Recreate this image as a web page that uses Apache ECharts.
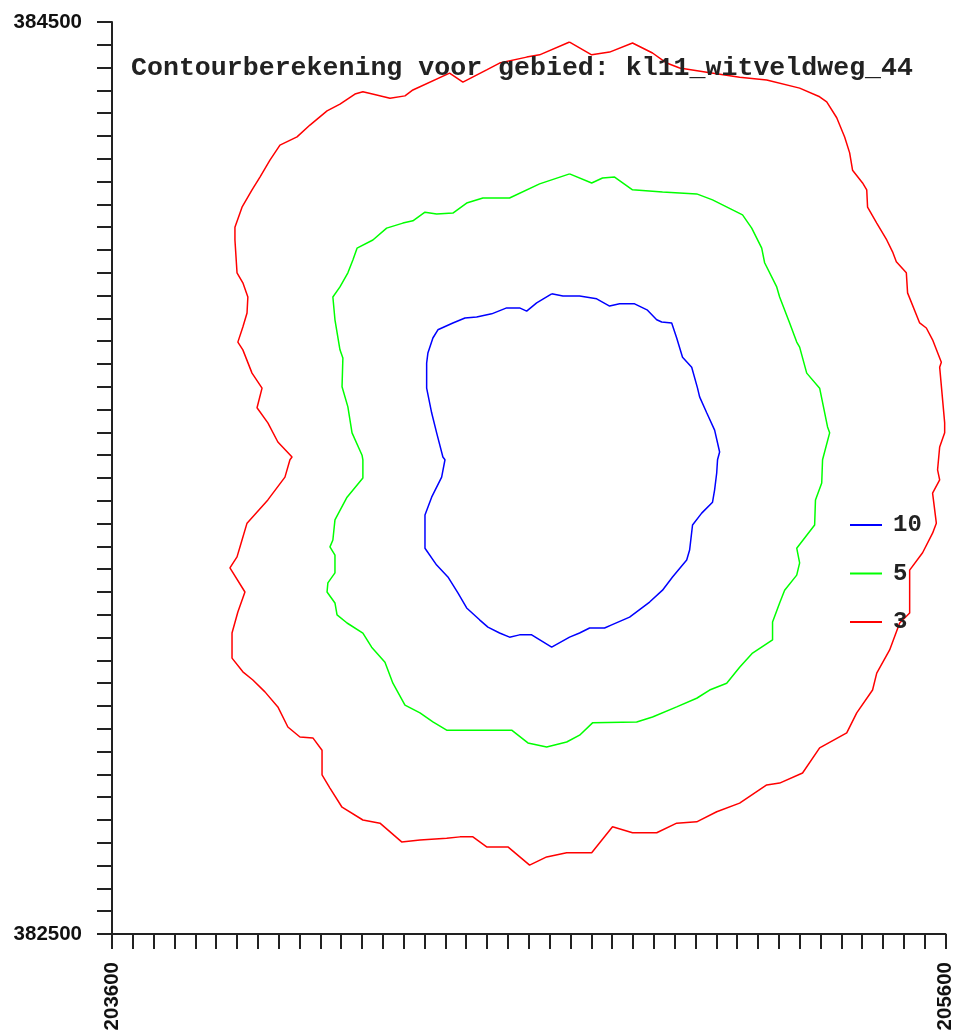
<!DOCTYPE html>
<html>
<head>
<meta charset="utf-8">
<script src="https://cdn.jsdelivr.net/npm/echarts@6/dist/echarts.min.js"></script>
<style>
  html, body { margin: 0; padding: 0; background: #fff; }
  #main { width: 956px; height: 1035px; }
</style>
</head>
<body>
<div id="main"></div>
<script>
// contour lines, [x, y] in map coordinates (RD)
var contour10 = [
  [204655,383904],[204682,383899],[204722,383899],[204763,383893],[204794,383877],[204818,383882],
  [204854,383882],[204885,383868],[204907,383847],[204919,383842],[204943,383840],[204955,383807],
  [204969,383765],[204991,383743],[205005,383697],[205010,383678],[205027,383643],[205046,383605],
  [205058,383557],[205053,383540],[205051,383511],[205046,383474],[205041,383447],[205015,383423],
  [204993,383397],[204986,383342],[204979,383320],[204945,383283],[204921,383254],[204890,383228],
  [204842,383195],[204799,383178],[204782,383171],[204746,383171],[204722,383160],[204698,383151],
  [204655,383129],[204607,383156],[204578,383156],[204554,383151],[204530,383160],[204502,383173],
  [204482,383189],[204451,383215],[204430,383248],[204406,383283],[204379,383309],[204351,383346],
  [204351,383419],[204367,383458],[204391,383502],[204399,383540],[204394,383546],[204379,383599],
  [204367,383643],[204355,383697],[204355,383752],[204358,383774],[204370,383807],[204382,383825],
  [204418,383840],[204447,383851],[204475,383853],[204511,383860],[204547,383873],[204578,383873],
  [204595,383866],[204619,383884]
];

var contour5 = [
  [204698,384167],[204751,384147],[204777,384158],[204806,384160],[204849,384132],[204921,384127],
  [204962,384125],[205003,384123],[205041,384110],[205089,384088],[205113,384077],[205135,384048],
  [205159,384004],[205166,383972],[205195,383919],[205202,383897],[205226,383840],[205243,383798],
  [205250,383787],[205267,383730],[205298,383697],[205317,383612],[205322,383599],[205305,383540],
  [205303,383489],[205288,383452],[205286,383397],[205243,383346],[205250,383314],[205243,383287],
  [205214,383254],[205202,383226],[205185,383184],[205185,383145],[205137,383116],[205106,383085],
  [205075,383050],[205034,383035],[205003,383017],[204955,382998],[204897,382976],[204859,382965],
  [204753,382963],[204722,382936],[204691,382921],[204643,382910],[204598,382919],[204559,382947],
  [204403,382947],[204370,382965],[204339,382985],[204303,383002],[204274,383050],[204255,383096],
  [204223,383129],[204202,383160],[204164,383182],[204140,383200],[204135,383226],[204116,383250],
  [204118,383270],[204135,383292],[204135,383331],[204123,383349],[204130,383364],[204135,383408],
  [204164,383458],[204202,383500],[204202,383540],[204200,383550],[204176,383599],[204166,383656],
  [204152,383700],[204154,383763],[204147,383781],[204135,383847],[204130,383897],[204147,383919],
  [204166,383950],[204178,383978],[204188,384004],[204226,384022],[204259,384048],[204298,384059],
  [204322,384064],[204351,384083],[204379,384079],[204418,384081],[204451,384103],[204490,384114],
  [204554,384114],[204626,384145]
];

var contour3 = [
  [204698,384456],[204751,384428],[204794,384434],[204849,384454],[204897,384432],[204931,384410],
  [204962,384399],[205027,384390],[205106,384379],[205171,384373],[205250,384355],[205298,384336],
  [205315,384325],[205339,384290],[205358,384248],[205370,384213],[205377,384175],[205401,384147],
  [205411,384132],[205413,384094],[205435,384059],[205459,384022],[205473,383996],[205482,383974],
  [205506,383950],[205509,383906],[205538,383840],[205554,383829],[205569,383803],[205590,383754],
  [205586,383743],[205598,383621],[205598,383599],[205586,383568],[205581,383518],[205586,383496],
  [205569,383467],[205578,383401],[205569,383379],[205545,383336],[205514,383298],[205514,383204],
  [205490,383182],[205466,383123],[205435,383072],[205425,383035],[205387,382985],[205363,382941],
  [205298,382908],[205257,382853],[205202,382831],[205171,382827],[205106,382787],[205051,382768],
  [205003,382746],[204955,382743],[204907,382722],[204849,382722],[204801,382735],[204751,382678],
  [204691,382678],[204643,382669],[204602,382651],[204550,382691],[204499,382691],[204466,382713],
  [204435,382713],[204403,382710],[204339,382706],[204295,382702],[204243,382743],[204202,382750],
  [204152,382778],[204123,382820],[204104,382849],[204104,382903],[204082,382930],[204051,382932],
  [204022,382954],[203998,382998],[203967,383031],[203938,383057],[203914,383075],[203888,383105],
  [203888,383160],[203902,383206],[203919,383250],[203883,383303],[203900,383327],[203912,383364],
  [203924,383401],[203974,383452],[204015,383502],[204027,383540],[204032,383546],[203998,383579],
  [203974,383621],[203948,383654],[203960,383697],[203936,383730],[203914,383781],[203902,383798],
  [203914,383831],[203924,383862],[203926,383897],[203914,383928],[203900,383950],[203895,384022],
  [203895,384050],[203912,384094],[203936,384132],[203955,384160],[203979,384197],[204003,384230],
  [204044,384248],[204075,384274],[204116,384305],[204147,384320],[204183,384342],[204202,384347],
  [204235,384340],[204267,384333],[204303,384338],[204322,384351],[204410,384388],[204442,384368],
  [204499,384395],[204530,384410],[204595,384423],[204626,384428]
];

var levels = ['10', '5', '3'];
var colors = ['#0000ff', '#00ff00', '#ff0000'];
var xMin = 203600, xMax = 205600;
var yMin = 382500, yMax = 384500;
var title = 'Contourberekening voor gebied: kl11_witveldweg_44';

function closed(pts) {
  return pts.concat([pts[0]]);
}

var chart = echarts.init(document.getElementById('main'), null, { renderer: 'canvas' });

var labelStyle = {
  fontFamily: 'Liberation Sans',
  fontWeight: 'bold',
  fontSize: 20.5,
  color: '#111'
};

var option = {
  animation: false,
  backgroundColor: '#fff',
  color: colors,
  title: {
    text: title,
    left: 131,
    top: 55,
    padding: 0,
    textStyle: {
      fontFamily: 'Liberation Mono',
      fontWeight: 'bold',
      fontSize: 26.6,
      color: '#222'
    }
  },
  legend: {
    orient: 'vertical',
    left: 845,
    top: 508,
    icon: 'rect',
    itemWidth: 32,
    itemHeight: 2,
    itemGap: 24.5,
    data: levels,
    textStyle: {
      fontFamily: 'Liberation Mono',
      fontWeight: 'bold',
      fontSize: 24,
      lineHeight: 24,
      color: '#222',
      padding: [0, 0, 0, 6]
    }
  },
  grid: {
    left: 112,
    right: 10,
    top: 22,
    bottom: 101,
    containLabel: false
  },
  xAxis: {
    type: 'value',
    min: xMin,
    max: xMax,
    interval: 50,
    axisLine: { lineStyle: { color: '#222', width: 2 } },
    axisTick: { length: 15, lineStyle: { color: '#222', width: 2 } },
    splitLine: { show: false },
    axisLabel: Object.assign({
      rotate: 90,
      margin: 28,
      showMinLabel: true,
      showMaxLabel: true,
      formatter: function (v) {
        return (v === xMin || v === xMax) ? String(v) : '';
      }
    }, labelStyle)
  },
  yAxis: {
    type: 'value',
    min: yMin,
    max: yMax,
    interval: 50,
    axisLine: { show: true, lineStyle: { color: '#222', width: 2 } },
    axisTick: { show: true, length: 15, lineStyle: { color: '#222', width: 2 } },
    splitLine: { show: false },
    axisLabel: Object.assign({
      margin: 30,
      showMinLabel: true,
      showMaxLabel: true,
      formatter: function (v) {
        return (v === yMin || v === yMax) ? String(v) : '';
      }
    }, labelStyle)
  },
  series: [
    { name: '10', type: 'line', data: closed(contour10), symbol: 'none', lineStyle: { width: 1.5, color: colors[0] } },
    { name: '5', type: 'line', data: closed(contour5), symbol: 'none', lineStyle: { width: 1.5, color: colors[1] } },
    { name: '3', type: 'line', data: closed(contour3), symbol: 'none', lineStyle: { width: 1.5, color: colors[2] } }
  ]
};

chart.setOption(option);
</script>
</body>
</html>
